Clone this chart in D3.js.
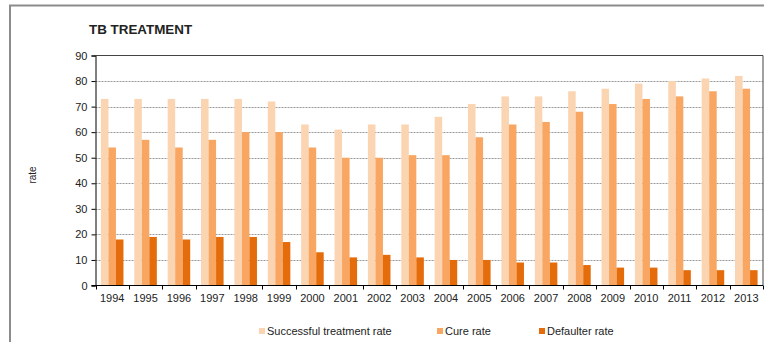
<!DOCTYPE html>
<html>
<head>
<meta charset="utf-8">
<script src="https://cdn.jsdelivr.net/npm/d3@7"></script>
<style>
  body { margin: 0; background: #fff; }
  text { font-family: "Liberation Sans", Arial, sans-serif; fill: #222; }
</style>
</head>
<body>
<svg width="769" height="342"></svg>
<script>
const years = ["1994","1995","1996","1997","1998","1999","2000","2001","2002","2003",
  "2004","2005","2006","2007","2008","2009","2010","2011","2012","2013"];
const successRate = [73,73,73,73,73,72,63,61,63,63,66,71,74,74,76,77,79,80,81,82];
const cureRate = [54,57,54,57,60,60,54,50,50,51,51,58,63,64,68,71,73,74,76,77];
const defaulterRate = [18,19,18,19,19,17,13,11,12,11,10,10,9,9,8,7,7,6,6,6];
const seriesNames = ["Successful treatment rate", "Cure rate", "Defaulter rate"];
const colors = ["#FBD4B1", "#F8A661", "#E46C0A"];
const yTicks = [0,10,20,30,40,50,60,70,80,90];

const svg = d3.select("svg");
const margin = {left: 95.5, right: 763, top: 55.5, bottom: 285.5};

// outer frame (only top and left edges visible in the crop)
svg.append("path")
  .attr("d", "M10,350 L10,5.5 L764,5.5")
  .attr("fill", "none")
  .attr("stroke", "#8c8c8c")
  .attr("stroke-width", 2);

svg.append("text")
  .attr("x", 89).attr("y", 34)
  .attr("font-size", 13.4).attr("font-weight", "bold")
  .text("TB TREATMENT");

const x = d3.scaleBand().domain(years).range([margin.left, margin.right]);
const y = d3.scaleLinear().domain([0, 90]).range([margin.bottom, margin.top]);
const inner = d3.scaleBand().domain([0, 1, 2])
  .range([0, x.bandwidth()]).paddingOuter(0.72).paddingInner(0);

// grid
svg.append("g")
  .selectAll("line")
  .data(yTicks.filter(d => d > 0 && d < 90))
  .enter()
  .append("line")
  .attr("x1", margin.left).attr("x2", margin.right)
  .attr("y1", d => Math.round(y(d)) + 0.5).attr("y2", d => Math.round(y(d)) + 0.5)
  .attr("stroke", "#999")
  .attr("stroke-dasharray", "2,1");

// plot frame top / right
svg.append("path")
  .attr("d", `M${margin.left},${margin.top} L${margin.right},${margin.top} L${margin.right},${margin.bottom}`)
  .attr("fill", "none")
  .attr("stroke", "#444")
  .attr("stroke-width", 1);

const allSeries = [successRate, cureRate, defaulterRate];
allSeries.forEach((vals, si) => {
  svg.append("g")
    .selectAll("rect")
    .data(vals)
    .enter()
    .append("rect")
    .attr("x", (d, i) => x(years[i]) + inner(si))
    .attr("y", d => y(d))
    .attr("width", inner.bandwidth())
    .attr("height", d => y(0) - y(d))
    .attr("fill", colors[si]);
});

// y axis
const yAxis = svg.append("g")
  .attr("transform", `translate(${margin.left},0)`)
  .call(d3.axisLeft(y).tickValues(yTicks).tickSize(4).tickPadding(4));
yAxis.select(".domain").attr("stroke", "#000");
yAxis.selectAll("text").attr("font-size", 11).style("font-family", "Liberation Sans, Arial");

// x axis: ticks between categories
const xAxisG = svg.append("g").attr("transform", `translate(0,${margin.bottom})`);
xAxisG.append("line")
  .attr("x1", margin.left - 4).attr("x2", margin.right)
  .attr("stroke", "#000");
xAxisG.selectAll("line.tk")
  .data(years.concat(["end"]))
  .enter()
  .append("line")
  .attr("class", "tk")
  .attr("x1", (d, i) => Math.round(margin.left + i * x.step()) + 0.5)
  .attr("x2", (d, i) => Math.round(margin.left + i * x.step()) + 0.5)
  .attr("y1", 0).attr("y2", 4)
  .attr("stroke", "#000");
xAxisG.selectAll("text")
  .data(years)
  .enter()
  .append("text")
  .attr("x", d => x(d) + x.bandwidth() / 2)
  .attr("y", 16)
  .attr("text-anchor", "middle")
  .attr("font-size", 11)
  .text(d => d);

svg.append("text")
  .attr("transform", "translate(36,175) rotate(-90)")
  .attr("text-anchor", "middle")
  .attr("font-size", 10)
  .text("rate");

// legend
const legendX = [259, 437, 539];
const legend = svg.append("g")
  .selectAll("g")
  .data(seriesNames)
  .enter()
  .append("g")
  .attr("transform", (d, i) => `translate(${legendX[i]},328)`);
legend.append("rect")
  .attr("width", 6).attr("height", 6)
  .attr("fill", (d, i) => colors[i]);
legend.append("text")
  .attr("x", 8).attr("y", 7)
  .attr("font-size", 11)
  .text(d => d);
</script>
</body>
</html>
